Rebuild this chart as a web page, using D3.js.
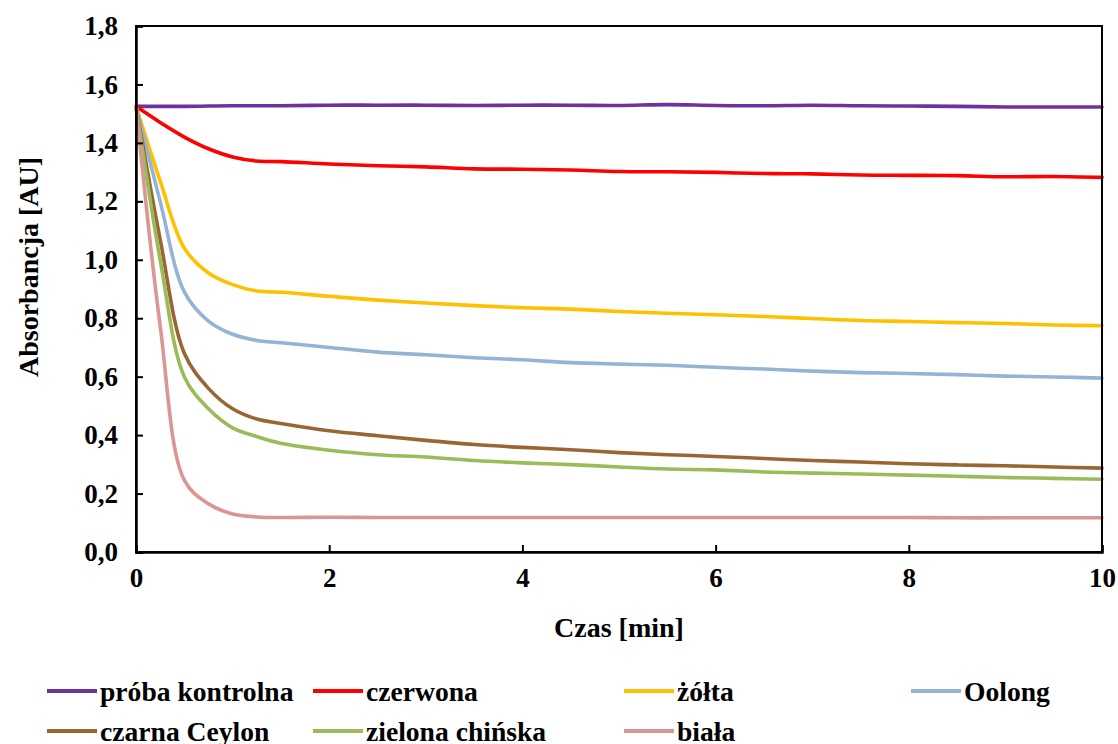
<!DOCTYPE html>
<html><head><meta charset="utf-8">
<script src="https://cdn.jsdelivr.net/npm/d3@7"></script>
</head><body style="margin:0;background:#fff">
<svg id="chart" width="1118" height="744" style="font-family:'Liberation Serif';font-weight:bold"></svg>
<script>
// ---- data ----
const times = [0, 0.25, 0.5, 0.75, 1, 1.25, 1.5, 2, 2.5, 3, 3.5, 4, 4.5, 5, 5.5, 6, 6.5, 7, 7.5, 8, 8.5, 9, 9.5, 10];
const probaKontrolna = [1.525,1.525,1.525,1.526,1.527,1.527,1.527,1.529,1.529,1.529,1.528,1.529,1.529,1.528,1.531,1.528,1.527,1.529,1.527,1.526,1.525,1.523,1.523,1.523];
const czerwona = [1.525,1.47,1.42,1.38,1.352,1.338,1.336,1.328,1.322,1.318,1.311,1.31,1.307,1.302,1.301,1.299,1.295,1.294,1.29,1.289,1.288,1.284,1.285,1.282];
const zolta = [1.525,1.27,1.04,0.955,0.915,0.893,0.889,0.875,0.862,0.852,0.843,0.836,0.831,0.823,0.817,0.812,0.806,0.799,0.792,0.789,0.785,0.782,0.777,0.774];
const oolong = [1.525,1.2,0.89,0.79,0.745,0.724,0.716,0.70,0.684,0.675,0.665,0.658,0.648,0.643,0.639,0.632,0.626,0.619,0.614,0.611,0.607,0.602,0.599,0.595];
const czarnaCeylon = [1.525,1.07,0.68,0.56,0.49,0.455,0.44,0.415,0.398,0.382,0.368,0.358,0.35,0.34,0.333,0.327,0.32,0.313,0.308,0.302,0.298,0.295,0.291,0.287];
const zielonaChinska = [1.525,1.0,0.6,0.49,0.425,0.395,0.372,0.348,0.333,0.325,0.313,0.305,0.299,0.291,0.284,0.281,0.274,0.27,0.267,0.263,0.259,0.255,0.252,0.249];
const biala = [1.525,0.775,0.246,0.165,0.13,0.12,0.118,0.119,0.118,0.118,0.118,0.118,0.118,0.118,0.118,0.118,0.118,0.118,0.118,0.118,0.117,0.117,0.117,0.117];
const seriesNames = ["próba kontrolna","czerwona","żółta","Oolong","czarna Ceylon","zielona chińska","biała"];
const seriesValues = [probaKontrolna, czerwona, zolta, oolong, czarnaCeylon, zielonaChinska, biala];
const colors = ["#7030A0","#FF0000","#FFC000","#95B3D7","#996633","#9BBB59","#DA9694"];
const xTicks = [0,2,4,6,8,10];
const yTicks = [0,0.2,0.4,0.6,0.8,1.0,1.2,1.4,1.6,1.8];
const xTitle = "Czas [min]";
const yTitle = "Absorbancja [AU]";

// ---- chart ----
const FONT = "Liberation Serif";
const svg = d3.select("#chart");
const L = 136, R = 1102, T = 26, B = 552;
const x = d3.scaleLinear().domain([0,10]).range([L,R]);
const y = d3.scaleLinear().domain([0,1.8]).range([B,T]);
const fmt = v => d3.format(".1f")(v).replace(".", ",");

const line = d3.line().x((d,i)=>x(times[i])).y(d=>y(d)).curve(d3.curveCatmullRom.alpha(0.5));
const g = svg.append("g");
seriesValues.forEach((vals,k)=>{
  g.append("path").attr("d", line(vals)).attr("fill","none")
   .attr("stroke", colors[k]).attr("stroke-width",3.6).attr("stroke-linejoin","round").attr("stroke-linecap","round");
});

// frame
svg.append("rect").attr("x",L).attr("y",T).attr("width",R-L).attr("height",B-T)
  .attr("fill","none").attr("stroke","#000").attr("stroke-width",2);

// axes with inward ticks
const xAxis = svg.append("g").attr("transform",`translate(0,${B})`)
  .call(d3.axisBottom(x).tickValues(xTicks).tickSize(-7).tickPadding(16).tickFormat(d3.format("d")));
const yAxis = svg.append("g").attr("transform",`translate(${L},0)`)
  .call(d3.axisLeft(y).tickValues(yTicks).tickSize(-7).tickPadding(18).tickFormat(fmt));
[xAxis,yAxis].forEach(a=>{
  a.attr("font-family", null).attr("font-size", null);
  a.select(".domain").attr("stroke","#000").attr("stroke-width",2.5);
  a.selectAll(".tick line").attr("stroke","#000").attr("stroke-width",2);
  a.selectAll(".tick text").attr("fill","#000")
    .style("font-family",FONT).style("font-weight","bold").style("font-size","27px");
});
xAxis.selectAll(".tick text").attr("dy","0.71em");

function txt(sel, size){ return sel.style("font-family",FONT).style("font-weight","bold").style("font-size",size+"px").attr("fill","#000"); }
txt(svg.append("text"),28).attr("x",(L+R)/2).attr("y",637).attr("text-anchor","middle").text(xTitle);
txt(svg.append("text"),28).attr("transform",`translate(38,${(T+B)/2-22}) rotate(-90)`).attr("text-anchor","middle").text(yTitle);

// legend
const legX = [47, 313, 624, 911];
const legY = [691, 731];
seriesNames.forEach((n,k)=>{
  const cx = legX[k%4], cy = legY[Math.floor(k/4)];
  svg.append("line").attr("x1",cx).attr("x2",cx+50).attr("y1",cy).attr("y2",cy)
    .attr("stroke",colors[k]).attr("stroke-width",4);
  txt(svg.append("text"),27.6).attr("x",cx+53).attr("y",cy).attr("dy","0.35em").text(n);
});
</script>
</body></html>
